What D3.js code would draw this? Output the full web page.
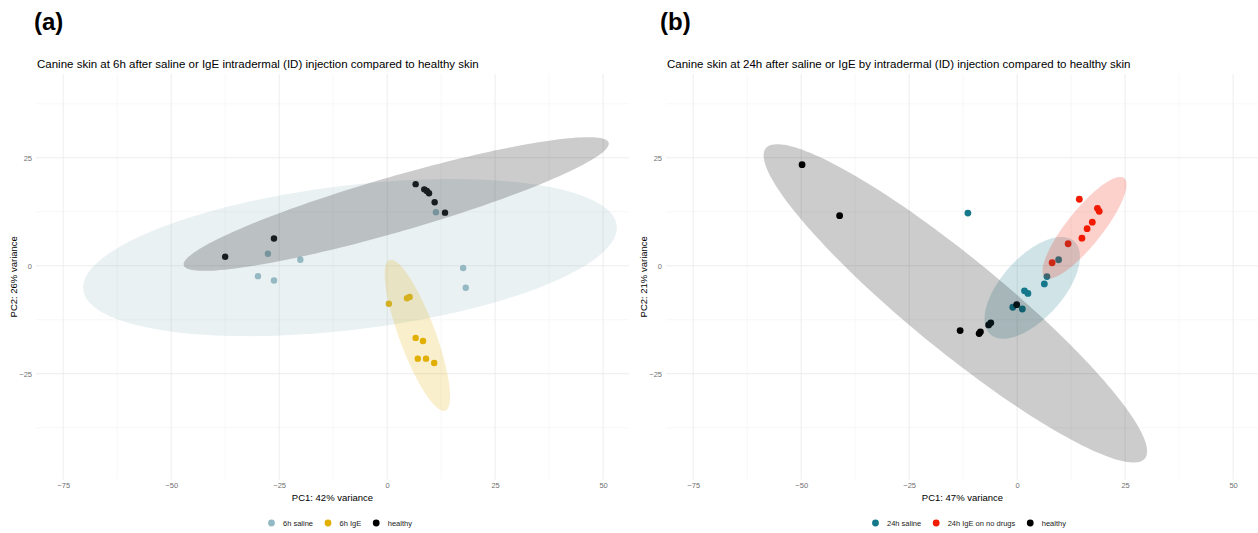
<!DOCTYPE html>
<html>
<head>
<meta charset="utf-8">
<script src="https://cdn.jsdelivr.net/npm/d3@7"></script>
<style>
  body { margin: 0; background: #fff; }
  svg { display: block; }
  text { font-family: "Liberation Sans", Arial, Helvetica, sans-serif; }
</style>
</head>
<body>
<svg id="chart" width="1258" height="533"></svg>
<script>
// ---- axis ticks (shared by both panels) ----
const xTicks = [-75, -50, -25, 0, 25, 50];
const yTicks = [-25, 0, 25];
const xDomain = [-81.3, 56.0];
const yDomain = [-49.5, 44.4];

// ---- panel (a): 6h after ID injection ----
const groupsA = ["6h saline", "6h IgE", "healthy"];
const colorsA = ["#94b9c4", "#e1af00", "#000000"];
const salineA_pc1 = [11.3, -27.6, -20.1, -29.9, -26.2, 17.6, 18.2];
const salineA_pc2 = [12.4, 2.8, 1.4, -2.4, -3.4, -0.5, -5.1];
const igeA_pc1 = [0.4, 4.6, 5.2, 6.6, 8.3, 7.1, 9.0, 10.9];
const igeA_pc2 = [-8.8, -7.5, -7.2, -16.7, -17.4, -21.5, -21.5, -22.5];
const healthyA_pc1 = [-37.5, -26.2, 6.6, 8.6, 9.2, 9.7, 11.0, 13.4];
const healthyA_pc2 = [2.1, 6.3, 18.9, 17.7, 17.3, 16.8, 14.7, 12.3];
// confidence ellipses: centre, semi-axes and rotation (degrees), one entry per group
const ellA_cx = [-8.6, 7.0, 2.1];
const ellA_cy = [1.9, -16.1, 14.3];
const ellA_a = [62.2, 18.6, 51.2];
const ellA_b = [16.7, 4.2, 6.4];
const ellA_rot = [6.9, -69.7, 16.1];

// ---- panel (b): 24h after ID injection ----
const groupsB = ["24h saline", "24h IgE on no drugs", "healthy"];
const colorsB = ["#16798b", "#f21a00", "#000000"];
const salineB_pc1 = [-11.4, 9.6, 6.9, 6.3, 1.7, 2.5, -1.0, 1.2];
const salineB_pc2 = [12.2, 1.4, -2.5, -4.2, -5.8, -6.4, -9.6, -10.0];
const igeB_pc1 = [14.4, 18.6, 19.0, 17.4, 16.2, 15.0, 11.8, 8.1];
const igeB_pc2 = [15.4, 13.3, 12.6, 10.1, 8.6, 6.4, 5.1, 0.7];
const healthyB_pc1 = [-49.8, -41.1, -13.2, -8.8, -8.5, -6.6, -6.1, -0.1];
const healthyB_pc2 = [23.4, 11.6, -15.0, -15.7, -15.3, -13.7, -13.2, -9.0];
const ellB_cx = [3.5, 15.6, -14.3];
const ellB_cy = [-5.1, 8.8, -8.7];
const ellB_a = [14.5, 14.7, 56.7];
const ellB_b = [7.1, 4.1, 10.7];
const ellB_rot = [48, 51.4, -39.3];

const panels = [
  {
    tag: "(a)", tagX: 34, left: 36, legendCx: 340, r: 3.2,
    title: "Canine skin at 6h after saline or IgE intradermal (ID) injection compared to healthy skin",
    xTitle: "PC1: 42% variance", yTitle: "PC2: 26% variance",
    groups: groupsA, colors: colorsA,
    series: [[salineA_pc1, salineA_pc2], [igeA_pc1, igeA_pc2], [healthyA_pc1, healthyA_pc2]],
    ell: { cx: ellA_cx, cy: ellA_cy, a: ellA_a, b: ellA_b, rot: ellA_rot }
  },
  {
    tag: "(b)", tagX: 660, left: 666, legendCx: 969, r: 3.4,
    title: "Canine skin at 24h after saline or IgE by intradermal (ID) injection compared to healthy skin",
    xTitle: "PC1: 47% variance", yTitle: "PC2: 21% variance",
    groups: groupsB, colors: colorsB,
    series: [[salineB_pc1, salineB_pc2], [igeB_pc1, igeB_pc2], [healthyB_pc1, healthyB_pc2]],
    ell: { cx: ellB_cx, cy: ellB_cy, a: ellB_a, b: ellB_b, rot: ellB_rot }
  }
];

const svg = d3.select("#chart");
svg.append("rect").attr("width", 1258).attr("height", 533).attr("fill", "#fff");

const plotW = 593, plotH = 405.6, plotTop = 74;

// minor grid positions sit halfway between major ticks
function minorOf(ticks, domain) {
  const step = ticks[1] - ticks[0];
  const vals = new Set();
  ticks.forEach(t => { vals.add(t - step / 2); vals.add(t + step / 2); });
  return [...vals].filter(v => v > domain[0] && v < domain[1]).sort((p, q) => p - q);
}

panels.forEach(p => {
  const x = d3.scaleLinear().domain(xDomain).range([p.left, p.left + plotW]);
  const y = d3.scaleLinear().domain(yDomain).range([plotTop + plotH, plotTop]);
  const g = svg.append("g");

  // grid
  const grid = g.append("g");
  minorOf(xTicks, xDomain).forEach(v => grid.append("line")
    .attr("x1", x(v)).attr("x2", x(v)).attr("y1", plotTop).attr("y2", plotTop + plotH)
    .attr("stroke", "#f1f1f1").attr("stroke-width", 0.6));
  minorOf(yTicks, yDomain).forEach(v => grid.append("line")
    .attr("y1", y(v)).attr("y2", y(v)).attr("x1", p.left).attr("x2", p.left + plotW)
    .attr("stroke", "#f1f1f1").attr("stroke-width", 0.6));
  xTicks.forEach(v => grid.append("line")
    .attr("x1", x(v)).attr("x2", x(v)).attr("y1", plotTop).attr("y2", plotTop + plotH)
    .attr("stroke", "#ebebeb").attr("stroke-width", 0.9));
  yTicks.forEach(v => grid.append("line")
    .attr("y1", y(v)).attr("y2", y(v)).attr("x1", p.left).attr("x2", p.left + plotW)
    .attr("stroke", "#ebebeb").attr("stroke-width", 0.9));

  // axes
  const xAxis = g.append("g").attr("transform", `translate(0,${plotTop + plotH})`)
    .call(d3.axisBottom(x).tickValues(xTicks).tickSize(0).tickPadding(3.5));
  const yAxis = g.append("g").attr("transform", `translate(${p.left},0)`)
    .call(d3.axisLeft(y).tickValues(yTicks).tickSize(0).tickPadding(4));
  [xAxis, yAxis].forEach(ax => {
    ax.select(".domain").remove();
    ax.selectAll("text").attr("fill", "#707070").style("font-size", "7.5px")
      .style("font-family", "'Liberation Sans', Arial, sans-serif");
  });

  // points
  p.series.forEach((s, gi) => {
    g.append("g").selectAll("circle").data(d3.range(s[0].length)).join("circle")
      .attr("cx", i => x(s[0][i])).attr("cy", i => y(s[1][i]))
      .attr("r", p.r).attr("fill", p.colors[gi]);
  });

  // ellipses, translucent, layered over the points
  const line = d3.line().x(d => x(d[0])).y(d => y(d[1])).curve(d3.curveLinearClosed);
  p.groups.forEach((grp, gi) => {
    const e = p.ell, th = e.rot[gi] * Math.PI / 180;
    const pts = d3.range(0, 2 * Math.PI, Math.PI / 90).map(t => [
      e.cx[gi] + e.a[gi] * Math.cos(th) * Math.cos(t) - e.b[gi] * Math.sin(th) * Math.sin(t),
      e.cy[gi] + e.a[gi] * Math.sin(th) * Math.cos(t) + e.b[gi] * Math.cos(th) * Math.sin(t)
    ]);
    g.append("path").attr("d", line(pts)).attr("fill", p.colors[gi]).attr("fill-opacity", 0.2);
  });

  // texts
  svg.append("text").attr("x", p.tagX).attr("y", 30).text(p.tag)
    .style("font-size", "24px").style("font-weight", "bold").attr("fill", "#000");
  svg.append("text").attr("x", p.left + 1).attr("y", 68).text(p.title)
    .style("font-size", "11.5px").attr("fill", "#000");
  svg.append("text").attr("x", p.left + plotW / 2).attr("y", 500.5).attr("text-anchor", "middle")
    .text(p.xTitle).style("font-size", "9.5px").attr("fill", "#000");
  svg.append("text").attr("transform", `translate(${p.left - 19.5},${plotTop + plotH / 2}) rotate(-90)`)
    .attr("text-anchor", "middle").text(p.yTitle).style("font-size", "9.5px").attr("fill", "#000");

  // legend
  const lg = svg.append("g");
  let cursor = 0;
  const items = [];
  p.groups.forEach((grp, gi) => {
    const it = lg.append("g");
    it.append("circle").attr("cx", 0).attr("cy", 0).attr("r", 3.4).attr("fill", p.colors[gi]);
    const t = it.append("text").attr("x", 11.5).attr("y", 2.7).text(grp)
      .style("font-size", "7.5px").attr("fill", "#1a1a1a");
    const w = t.node().getComputedTextLength();
    items.push({ it, start: cursor });
    cursor += 11.5 + w + 15;
  });
  const total = cursor - 15 + 3.4;
  const x0 = p.legendCx - total / 2 + 3.4;
  items.forEach(o => o.it.attr("transform", `translate(${x0 + o.start},523)`));
});
</script>
</body>
</html>
